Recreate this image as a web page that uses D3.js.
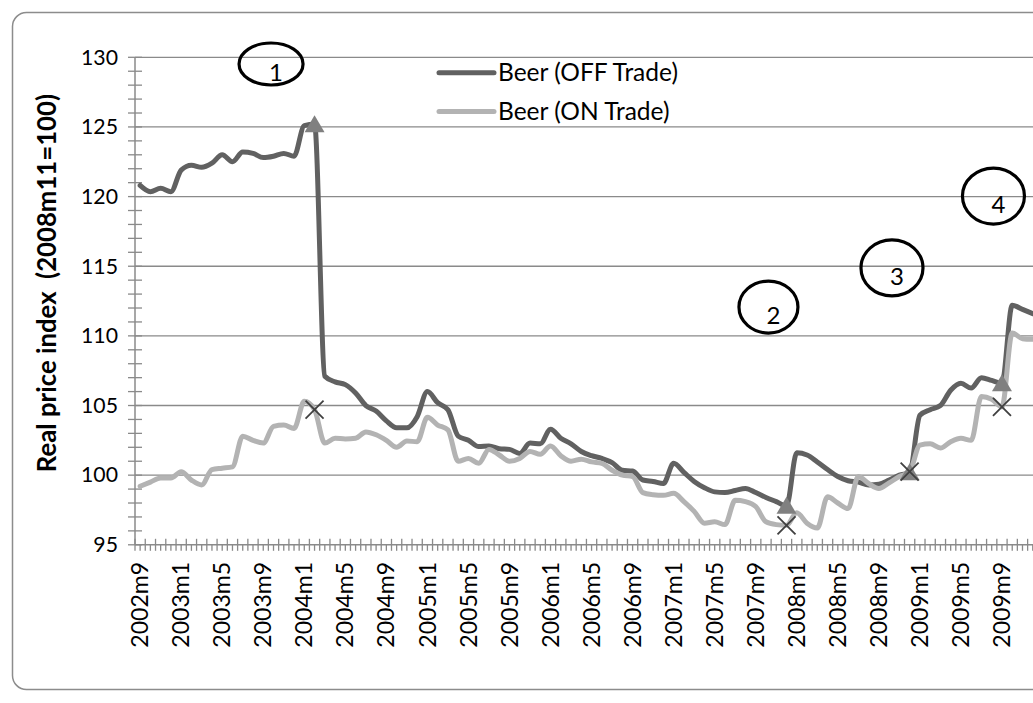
<!DOCTYPE html>
<html><head><meta charset="utf-8">
<script src="https://cdn.jsdelivr.net/npm/d3@7"></script>
<style>body{margin:0;background:#fff;} svg{display:block;}</style>
</head><body>
<svg id="c" width="1033" height="703"></svg>
<script>
const months = [
 "2002m9","2002m10","2002m11","2002m12",
 "2003m1","2003m2","2003m3","2003m4","2003m5","2003m6","2003m7","2003m8","2003m9","2003m10","2003m11","2003m12",
 "2004m1","2004m2","2004m3","2004m4","2004m5","2004m6","2004m7","2004m8","2004m9","2004m10","2004m11","2004m12",
 "2005m1","2005m2","2005m3","2005m4","2005m5","2005m6","2005m7","2005m8","2005m9","2005m10","2005m11","2005m12",
 "2006m1","2006m2","2006m3","2006m4","2006m5","2006m6","2006m7","2006m8","2006m9","2006m10","2006m11","2006m12",
 "2007m1","2007m2","2007m3","2007m4","2007m5","2007m6","2007m7","2007m8","2007m9","2007m10","2007m11","2007m12",
 "2008m1","2008m2","2008m3","2008m4","2008m5","2008m6","2008m7","2008m8","2008m9","2008m10","2008m11","2008m12",
 "2009m1","2009m2","2009m3","2009m4","2009m5","2009m6","2009m7","2009m8","2009m9","2009m10","2009m11","2009m12"
];
const offTrade = [
 120.8,120.35,120.6,120.35,
 121.9,122.25,122.1,122.4,123.0,122.5,123.2,123.1,122.8,122.9,123.1,122.9,
 125.1,125.2,107.1,106.7,106.5,105.9,105.0,104.6,103.9,103.4,103.4,104.2,
 106.0,105.2,104.7,102.8,102.5,102.05,102.1,101.9,101.85,101.55,102.3,102.25,
 103.3,102.65,102.25,101.7,101.4,101.2,100.9,100.35,100.3,99.65,99.55,99.4,
 100.85,100.2,99.55,99.1,98.8,98.75,98.9,99.05,98.75,98.4,98.1,97.8,
 101.6,101.45,100.95,100.4,99.9,99.6,99.5,99.3,99.35,99.65,100.0,100.2,
 104.3,104.7,105.0,106.1,106.6,106.25,107.0,106.8,106.6,112.2,111.9,111.6
];
const onTrade = [
 99.2,99.5,99.8,99.8,
 100.25,99.65,99.3,100.4,100.5,100.6,102.8,102.5,102.3,103.5,103.6,103.35,
 105.3,104.7,102.3,102.65,102.6,102.65,103.1,102.9,102.5,102.0,102.45,102.4,
 104.15,103.6,103.25,101.0,101.2,100.85,101.85,101.45,101.0,101.2,101.7,101.5,
 102.1,101.4,101.0,101.15,100.95,100.85,100.35,100.0,99.9,98.75,98.6,98.55,
 98.7,98.1,97.4,96.55,96.65,96.45,98.2,98.1,97.75,96.65,96.45,96.4,
 97.3,96.55,96.2,98.45,98.0,97.6,99.9,99.4,99.05,99.45,99.9,100.25,
 102.15,102.25,101.95,102.4,102.65,102.5,105.65,105.45,104.9,110.2,109.8,109.75
];
const yTicks = [95,100,105,110,115,120,125,130];
const labelEvery = 4;
const markerMonths = ["2004m2","2007m12","2008m12","2009m9"];
const seriesNames = ["Beer (OFF Trade)","Beer (ON Trade)"];
const yTitle = "Real price index  (2008m11=100)";
// annotation circles: position in (category index, value) space
const noteLabels = ["1","2","3","4"];
const noteAt = [12.76, 61.24, 73.28, 83.17];
const noteVal = [129.52, 112.07, 114.88, 120.04];

const svg = d3.select("#c");
const W = 1033, H = 703;
const FONT = "Lato, 'Open Sans', sans-serif";
const plotL = 135, plotT = 57.3, plotB = 544.8, step = 10.26;
const plotR = plotL + months.length * step;

const x = d3.scaleLinear().domain([0, months.length]).range([plotL, plotR]);
const y = d3.scaleLinear().domain([95, 130]).range([plotB, plotT]);
const cx = i => x(i + 0.5);

// helper: font size so that a text has a given width
function fitSize(txt, target, weight) {
  const t = svg.append("text").attr("font-family", FONT).attr("font-size", 20)
    .attr("font-weight", weight || "normal").text(txt);
  const w = t.node().getComputedTextLength();
  t.remove();
  return 20 * target / w;
}
const tickFs = fitSize("130", 37);
const xFs = fitSize("2002m9", 86);
const legFs = fitSize("Beer (OFF Trade)", 180);
const titleFs = fitSize(yTitle, 372, "bold");

// outer border
svg.append("rect").attr("x", 12.5).attr("y", 12.5).attr("width", 1150).attr("height", 677)
  .attr("rx", 14).attr("fill", "none").attr("stroke", "#8c8c8c").attr("stroke-width", 1.5);

const gridC = "#8a8a8a";
// gridlines
svg.append("g").selectAll("line").data(yTicks.filter(v => v > 95)).join("line")
  .attr("x1", plotL).attr("x2", plotR).attr("y1", d => y(d)).attr("y2", d => y(d))
  .attr("stroke", gridC).attr("stroke-width", 1.3);

// y axis
const yAx = svg.append("g").attr("transform", `translate(${plotL},0)`)
  .call(d3.axisLeft(y).tickValues(yTicks).tickSize(0).tickPadding(17));
yAx.select(".domain").remove();
yAx.selectAll("text").attr("font-family", FONT).attr("font-size", tickFs).attr("fill", "#000");
svg.append("line").attr("x1", plotL).attr("x2", plotL).attr("y1", plotT).attr("y2", plotB)
  .attr("stroke", gridC).attr("stroke-width", 1.5);
const minorY = d3.range(95, 131, 1);
svg.append("g").selectAll("line").data(minorY).join("line")
  .attr("x1", plotL - 7).attr("x2", plotL + 7).attr("y1", d => y(d)).attr("y2", d => y(d))
  .attr("stroke", gridC).attr("stroke-width", 1.3);

// x axis
svg.append("line").attr("x1", plotL).attr("x2", plotR).attr("y1", plotB).attr("y2", plotB)
  .attr("stroke", gridC).attr("stroke-width", 1.5);
svg.append("g").selectAll("line").data(d3.range(0, months.length + 1)).join("line")
  .attr("x1", d => x(d)).attr("x2", d => x(d)).attr("y1", plotB - 6).attr("y2", plotB + 6)
  .attr("stroke", gridC).attr("stroke-width", 1.3);
svg.append("g").selectAll("line").data(d3.range(0, months.length)).join("line")
  .attr("x1", d => cx(d)).attr("x2", d => cx(d)).attr("y1", plotB).attr("y2", plotB + 6)
  .attr("stroke", gridC).attr("stroke-width", 1.3);
const labIdx = d3.range(0, months.length, labelEvery);
svg.append("g").selectAll("text").data(labIdx).join("text")
  .attr("transform", d => `translate(${cx(d)},${plotB + 17}) rotate(-90)`)
  .attr("text-anchor", "end").attr("dy", "0.35em")
  .attr("font-family", FONT).attr("font-size", xFs).attr("fill", "#000")
  .text(d => months[d]);

// y title
svg.append("text").attr("transform", `translate(47,${(plotT + plotB) / 2 - 18}) rotate(-90)`)
  .attr("text-anchor", "middle").attr("dy", "0.35em")
  .attr("font-family", FONT).attr("font-weight", "bold").attr("font-size", titleFs)
  .attr("fill", "#000").style("white-space", "pre").attr("xml:space", "preserve").text(yTitle);

// lines
const colors = ["#616161", "#b3b3b3"];
const series = [offTrade, onTrade];
const line = d3.line().x((d, i) => cx(i)).y(d => y(d)).curve(d3.curveMonotoneX);
const clip = svg.append("clipPath").attr("id", "pc").append("rect")
  .attr("x", 0).attr("y", 0).attr("width", W).attr("height", H);
series.forEach((s, k) => {
  svg.append("path").datum(s).attr("d", line).attr("fill", "none")
    .attr("stroke", colors[k]).attr("stroke-width", 5)
    .attr("stroke-linejoin", "round").attr("stroke-linecap", "round");
});

// markers
const mIdx = markerMonths.map(m => months.indexOf(m));
svg.append("g").selectAll("path").data(mIdx).join("path")
  .attr("d", d => {
    const px = cx(d), py = y(offTrade[d]);
    return `M${px},${py - 9}L${px + 10},${py + 8}L${px - 10},${py + 8}Z`;
  }).attr("fill", "#808080");
svg.append("g").selectAll("path").data(mIdx).join("path")
  .attr("d", d => {
    const px = cx(d), py = y(onTrade[d]), r = 9;
    return `M${px - r},${py - r}L${px + r},${py + r}M${px + r},${py - r}L${px - r},${py + r}`;
  }).attr("stroke", "#404040").attr("stroke-width", 1.8).attr("fill", "none");

// legend
const legX0 = 439, legX1 = 494, legY = [72.7, 111.5];
seriesNames.forEach((n, k) => {
  svg.append("line").attr("x1", legX0).attr("x2", legX1).attr("y1", legY[k]).attr("y2", legY[k])
    .attr("stroke", colors[k]).attr("stroke-width", 5).attr("stroke-linecap", "round");
  svg.append("text").attr("x", legX1 + 4).attr("y", legY[k]).attr("dy", "0.35em")
    .attr("font-family", FONT).attr("font-size", legFs).attr("fill", "#000").text(n);
});

// annotation ellipses
const noteR = [[32, 21], [29.5, 26], [31, 28], [31, 28]];
noteLabels.forEach((l, k) => {
  const ex = x(noteAt[k] + 0.5), ey = y(noteVal[k]);
  svg.append("ellipse").attr("cx", ex).attr("cy", ey).attr("rx", noteR[k][0]).attr("ry", noteR[k][1])
    .attr("fill", "none").attr("stroke", "#000").attr("stroke-width", 3.2);
  svg.append("text").attr("x", ex + 5).attr("y", ey + 9).attr("dy", "0.35em").attr("text-anchor", "middle")
    .attr("font-family", FONT).attr("font-size", 24).attr("fill", "#000").text(l);
});
</script>
</body></html>
